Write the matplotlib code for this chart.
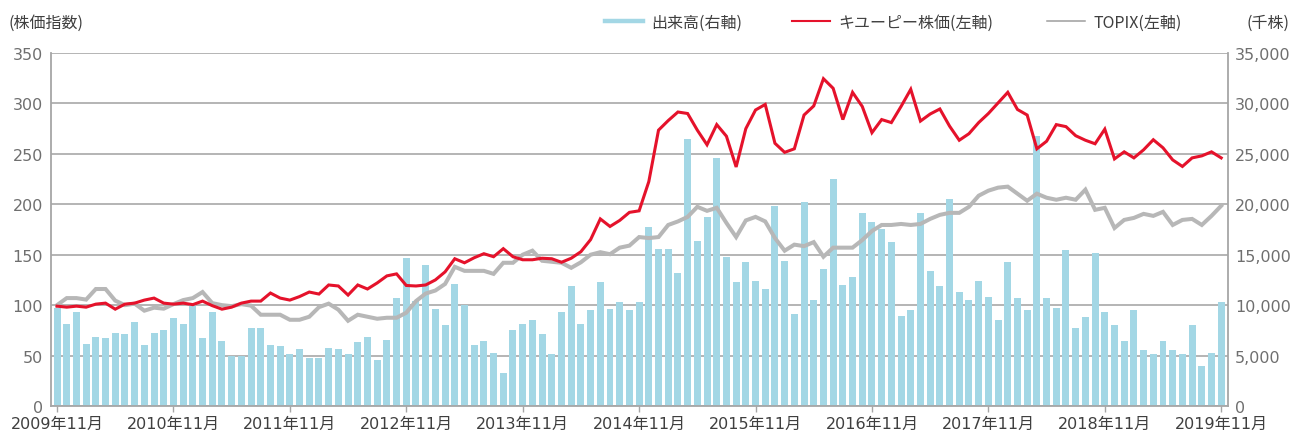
import matplotlib
matplotlib.use("Agg")
import matplotlib.pyplot as plt
from matplotlib.lines import Line2D
import numpy as np

plt.rcParams['font.family'] = ['DejaVu Sans', 'Noto Sans CJK JP']

# ---- data (monthly, 2009-11 .. 2019-11) ----
volume = [9700, 8100, 9300, 6150, 6850, 6750, 7250, 7150, 8350, 6050,
          7250, 7550, 8750, 8150, 10000, 6750, 9350, 6450, 4950, 4950,
          7750, 7750, 6050, 5950, 5150, 5650, 4750, 4750, 5750, 5650,
          5150, 6350, 6850, 4550, 6550, 10700, 14700, 10400, 14000, 9650,
          8050, 12100, 10000, 6050, 6450, 5250, 3300, 7550, 8150, 8550,
          7150, 5150, 9350, 11900, 8150, 9550, 12300, 9650, 10300, 9550,
          10300, 17750, 15600, 15600, 13200, 26500, 16400, 18750, 24600, 14800,
          12300, 14300, 12400, 11600, 19850, 14400, 9150, 20250, 10500, 13600,
          22500, 12000, 12800, 19150, 18250, 17550, 16300, 8950, 9550, 19150,
          13400, 11900, 20550, 11300, 10500, 12400, 10800, 8550, 14300, 10700,
          9550, 26800, 10700, 9700, 15500, 7750, 8850, 15200, 9350, 8050,
          6450, 9550, 5550, 5150, 6450, 5550, 5150, 8050, 3950, 5250,
          10300]

kewpie = [99, 98, 99, 98, 101, 102, 96, 101, 102, 105,
          107, 102, 101, 102, 100.5, 104, 99.5, 96, 98, 102,
          104, 104, 112, 107, 105, 108.5, 113, 111, 120, 119,
          110, 120, 116, 122, 129, 131, 119.5, 119, 120, 125,
          133, 146, 142, 147, 151, 148, 156, 148, 145, 145,
          146.5, 146, 142.5, 146.5, 153, 165, 185.5, 178, 184, 192,
          193.5, 222.5, 273.5, 283, 291.5, 290, 273.5, 259, 279, 267.5,
          237, 275, 293.5, 299, 260.5, 251.5, 255, 288.5, 297.5, 324.5,
          315, 284, 311, 297, 271, 284, 281, 297, 314, 282.5,
          289.5, 294.5, 277.5, 263.5, 270, 281, 290, 300.5, 311, 294,
          288.5, 255, 262.5, 279, 277, 268, 263.5, 260, 274.5, 245,
          252, 246, 254, 264, 256, 244, 237.5, 246, 248, 252,
          246]

topix = [100, 107, 107, 105.5, 116, 116, 104.5, 100, 101.5, 94.5,
         97.5, 96.5, 101, 105, 107, 113, 102, 100, 99, 101,
         99.5, 90.5, 90.5, 90.5, 85.5, 85.5, 88.5, 98, 101.5, 95.5,
         84.5, 90.5, 88.5, 86.5, 87.5, 87.5, 92.5, 104, 111.5, 114.5,
         121, 138, 134, 134, 134, 131, 142, 142, 150, 154,
         144, 143, 142, 137, 142.5, 150, 152.5, 150.5, 157, 159,
         167.5, 166.5, 167.5, 179.5, 183, 187.5, 197.5, 193.5, 196.5, 181.5,
         167.5, 184, 187.5, 183, 166.5, 154, 160, 158.5, 162.5, 148,
         157, 157, 157, 164.5, 173.5, 179.5, 179.5, 180.5, 179.5, 180.5,
         185.5, 189.5, 191.5, 191.5, 197.5, 208.5, 213.5, 216.5, 217.5, 210.5,
         203.5, 210.5, 206.5, 204.5, 206.5, 204.5, 214.5, 194.5, 196.5, 176.5,
         184.5, 186.5, 190.5, 188.5, 192.5, 179.5, 184.5, 185.5, 179.5, 188.5,
         198.5]

years = list(range(2009, 2020))
xtick_labels = [f"{y}年11月" for y in years]

BLUE = '#a3d7e5'
RED = '#e5122b'
GRAY = '#b7b7b7'
AXC = '#a6a6a6'
TICKC = '#6f6f6f'
TEXTC = '#3f3f3f'

W, H = 1292, 439
fig = plt.figure(figsize=(W / 100, H / 100), dpi=100)
ax = fig.add_axes([51 / W, 32 / H, (1228 - 51) / W, (407 - 54) / H])
ax2 = ax.twinx()

x = np.arange(len(volume))

ax2.bar(x, volume, width=0.72, color=BLUE, zorder=2)
ax2.set_ylim(0, 35000)
ax2.set_yticks(np.arange(0, 35001, 5000))
ax2.set_yticklabels([f"{v:,}" for v in range(0, 35001, 5000)])
ax2.yaxis.grid(True, color='#a0a0a0', linewidth=1.1)
ax2.set_axisbelow(True)

ax.plot(x, topix, color=GRAY, linewidth=2.9, solid_joinstyle='miter', zorder=3)
ax.plot(x, kewpie, color=RED, linewidth=2.2, solid_joinstyle='miter', zorder=4)
ax.set_ylim(0, 350)
ax.set_yticks(np.arange(0, 351, 50))
ax.set_xlim(-0.62, 120.7)
ax.set_xticks(np.arange(0, len(volume), 12))
ax.set_xticklabels(xtick_labels)

ax.set_zorder(ax2.get_zorder() + 1)
ax.patch.set_visible(False)

for s in ax.spines.values():
    s.set_visible(False)
for name, s in ax2.spines.items():
    if name == 'top':
        s.set_visible(False)
    else:
        s.set_color(AXC)
        s.set_linewidth(1.3)

ax.tick_params(axis='y', length=0, pad=5.8, labelsize=11.5, labelcolor=TICKC)
ax.tick_params(axis='x', length=4, width=1, color=AXC, direction='out', pad=3,
               labelsize=11.5, labelcolor=TEXTC)
ax2.tick_params(axis='y', length=0, pad=5, labelsize=11.5, labelcolor=TICKC)

# axis unit labels
cjk = ['Noto Sans CJK JP', 'DejaVu Sans']
fig.text(8 / W, 1 - 23 / H, '(株価指数)', family=cjk, fontsize=11.5,
         color=TEXTC, ha='left', va='center')
fig.text(1290 / W, 1 - 23 / H, '(千株)', family=cjk, fontsize=11.5,
         color=TEXTC, ha='right', va='center')

# legend (three separate entries)
entries = [
    (Line2D([], [], color=BLUE, linewidth=3.2), '出来高(右軸)', 605),
    (Line2D([], [], color=RED, linewidth=1.5), 'キユーピー株価(左軸)', 792),
    (Line2D([], [], color='#9e9e9e', linewidth=1.1), 'TOPIX(左軸)', 1047),
]
for i, (h, lab, px) in enumerate(entries):
    leg = ax.legend([h], [lab], loc='center left',
                    bbox_to_anchor=(px / W, 1 - 23 / H),
                    bbox_transform=fig.transFigure, frameon=False,
                    borderpad=0, borderaxespad=0, handlelength=2.4,
                    handletextpad=0.5,
                    prop={'family': cjk, 'size': 11.5})
    for t in leg.get_texts():
        t.set_color(TEXTC)
    if i < len(entries) - 1:
        ax.add_artist(leg)

fig.savefig('out.png', dpi=100)
